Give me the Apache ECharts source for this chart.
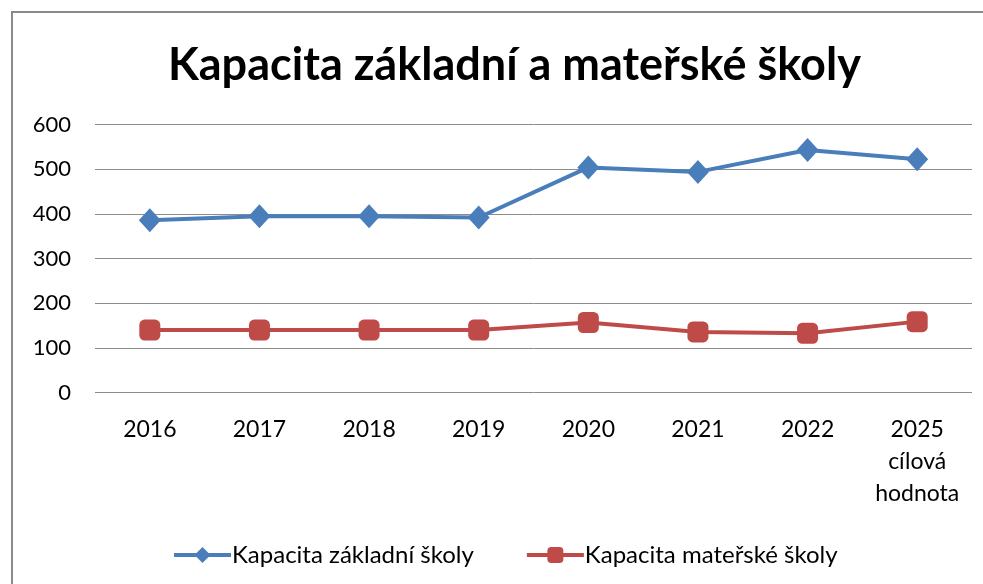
<!DOCTYPE html>
<html>
<head>
<meta charset="utf-8">
<script src="https://cdn.jsdelivr.net/npm/echarts@6/dist/echarts.min.js"></script>
<style>
  html, body { margin: 0; padding: 0; background: #fff; }
  #chart { width: 983px; height: 584px; }
</style>
</head>
<body>
<div id="chart"></div>
<script>
var years = ['2016', '2017', '2018', '2019', '2020', '2021', '2022', '2025\ncílová\nhodnota'];
var zakladni = [386, 395, 395, 392, 504, 494, 543, 522];
var materska = [140, 140, 140, 140, 157, 136, 133, 159];
var yTicks = [0, 100, 200, 300, 400, 500, 600];

var font = 'Lato, "Open Sans", sans-serif';
var chart = echarts.init(document.getElementById('chart'));

var option = {
  backgroundColor: '#fff',
  animation: false,
  graphic: [
    { // frame like the Excel chart border
      type: 'polyline',
      shape: { points: [[12, 584], [12, 12], [983, 12]] },
      style: { stroke: '#8a8a8a', lineWidth: 2, fill: null }
    }
  ],
  title: {
    text: 'Kapacita základní a mateřské školy',
    left: 163,
    top: 38,
    textStyle: { fontFamily: font, fontSize: 45, fontWeight: 'bold', color: '#000' }
  },
  grid: { left: 95, right: 11, top: 124.5, bottom: 191.3, containLabel: false },
  legend: {
    left: 167,
    top: 538,
    itemWidth: 57,
    itemHeight: 20,
    itemGap: 51,
    lineStyle: { width: 4 },
    textStyle: { fontFamily: font, fontSize: 24, color: '#000', padding: [0, 0, 0, -4] },
    data: ['Kapacita základní školy', 'Kapacita mateřské školy']
  },
  xAxis: {
    type: 'category',
    data: years,
    axisLine: { show: false },
    axisTick: { show: false },
    axisLabel: {
      margin: 21,
      fontFamily: font,
      fontSize: 23,
      lineHeight: 32,
      color: '#000',
      interval: 0
    }
  },
  yAxis: {
    type: 'value',
    min: yTicks[0],
    max: yTicks[yTicks.length - 1],
    interval: 100,
    axisLine: { show: false },
    axisTick: { show: false },
    axisLabel: { margin: 24, fontFamily: font, fontSize: 22, color: '#000' },
    splitLine: { lineStyle: { color: '#8c8c8c', width: 1 } }
  },
  series: [
    {
      name: 'Kapacita základní školy',
      type: 'line',
      data: zakladni,
      symbol: 'diamond',
      symbolSize: [22, 24],
      lineStyle: { color: '#4a7ebb', width: 4 },
      itemStyle: { color: '#4a7ebb' }
    },
    {
      name: 'Kapacita mateřské školy',
      type: 'line',
      data: materska,
      symbol: 'roundRect',
      symbolSize: 21,
      lineStyle: { color: '#be4b48', width: 4 },
      itemStyle: { color: '#be4b48' }
    }
  ]
};

chart.setOption(option);
</script>
</body>
</html>
